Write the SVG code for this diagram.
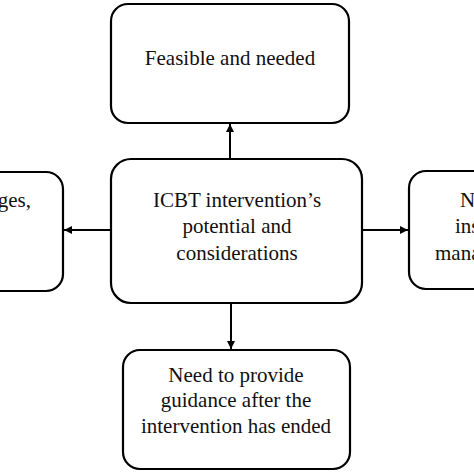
<svg xmlns="http://www.w3.org/2000/svg" width="474" height="474" viewBox="0 0 474 474">
<defs>
<style>
.box{fill:#fff;stroke:#000;stroke-width:2.2}
.t{font-family:"Liberation Serif","Times New Roman",serif;font-size:21px;fill:#111}
.c{text-anchor:middle}
.ln{stroke:#000;stroke-width:2;fill:none;marker-end:url(#ah)}
</style>
<marker id="ah" viewBox="0 0 10 10" refX="10" refY="5" markerWidth="8" markerHeight="8" markerUnits="userSpaceOnUse" orient="auto">
<path d="M0,0 L10,5 L0,10 z" fill="#000"/>
</marker>
</defs>
<rect width="474" height="474" fill="#fff"/>
<g id="connectors">
<line class="ln" x1="230" y1="159" x2="230" y2="124"/>
<line class="ln" x1="111" y1="230" x2="64" y2="230"/>
<line class="ln" x1="362" y1="230" x2="408" y2="230"/>
<line class="ln" x1="231" y1="303" x2="231" y2="349"/>
</g>
<g id="top">
<rect class="box" x="111" y="4" width="238" height="119" rx="17"/>
<text class="t c" x="230" y="65">Feasible and needed</text>
</g>
<g id="center">
<rect class="box" x="111" y="159" width="251" height="144" rx="20"/>
<text class="t c" x="237" y="207">ICBT intervention’s</text>
<text class="t c" x="237" y="233">potential and</text>
<text class="t c" x="237" y="260">considerations</text>
</g>
<g id="left">
<rect class="box" x="-60" y="172" width="123" height="119" rx="17"/>
<text class="t" x="31" y="207" text-anchor="end">ges,</text>
</g>
<g id="right">
<rect class="box" x="409" y="171" width="123" height="118" rx="17"/>
<text class="t" x="460" y="207">N</text>
<text class="t" x="455" y="233">ins</text>
<text class="t" x="435" y="260">mana</text>
</g>
<g id="bottom">
<rect class="box" x="123" y="350" width="227" height="119" rx="17"/>
<text class="t c" x="236" y="382">Need to provide</text>
<text class="t c" x="236" y="407">guidance after the</text>
<text class="t c" x="236" y="433">intervention has ended</text>
</g>
</svg>
